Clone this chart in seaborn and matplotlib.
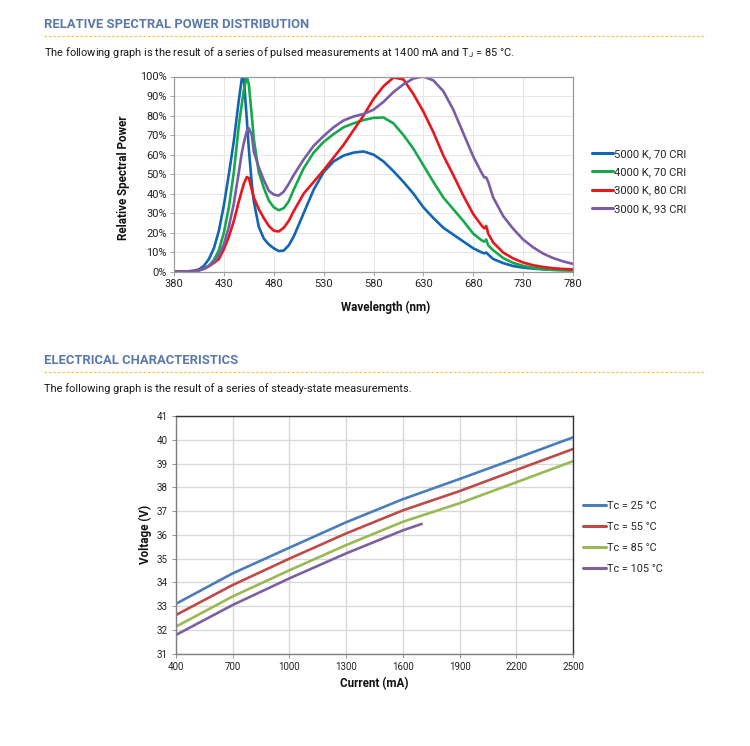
import matplotlib
matplotlib.use("Agg")
import matplotlib.pyplot as plt
import seaborn as sns
import pandas as pd
from matplotlib.lines import Line2D

# ---------------- data: relative spectral power ----------------
wavelength = [380, 390, 400, 405, 410, 415, 420, 425, 430, 435, 440, 445, 448, 450,
              453, 455, 458, 460, 465, 470, 475, 480, 485, 490, 495, 500, 510, 520,
              530, 540, 550, 560, 570, 580, 590, 600, 610, 620, 630, 640, 650, 660,
              670, 680, 688, 691, 693, 695, 700, 710, 720, 730, 740, 750, 760, 770, 780]

spd_5000k_70 = [0, 0, 0.5, 1.2, 3, 6.5, 12, 21, 34, 50, 67, 88, 99, 99,
                78, 63, 45, 36, 23, 17, 14, 12, 10.6, 10.8, 13.5, 18, 30, 42,
                51, 56.5, 59.5, 61, 61.6, 60, 56.5, 51.5, 46, 40, 33, 27.5, 22.5, 19,
                15.5, 12, 10, 9.4, 9.8, 8.8, 6.5, 4.4, 2.9, 2.1, 1.6, 1.2, 1.0, 0.9, 0.8]

spd_4000k_70 = [0, 0, 0.3, 0.8, 1.6, 3, 6, 11, 20, 33, 51, 75, 86, 93,
                100, 96, 80, 68, 51, 43, 36.5, 33, 31.5, 32.5, 36, 42, 53, 61,
                66.5, 70.5, 74, 76, 77.7, 78.8, 79, 76, 70, 63, 54.5, 46, 38, 32,
                26, 19.5, 16.2, 15.4, 16.5, 13.5, 11, 7, 4.5, 3, 2, 1.3, 0.9, 0.7, 0.6]

spd_3000k_80 = [0, 0, 0.3, 0.7, 1.5, 2.8, 4.5, 6.5, 11.5, 18, 26, 36, 41.5, 45,
                48.5, 48, 42, 38, 32, 27.5, 23.5, 21, 20.6, 22.5, 26, 31, 40, 46,
                52, 58.5, 65, 72.5, 80, 88.5, 95, 99.5, 98.5, 91, 82, 71.5, 59.5, 49.5,
                39, 29.5, 23.9, 22.2, 23.4, 19.5, 15, 9.8, 6.8, 4.7, 3.3, 2.4, 1.8, 1.4, 1.2]

spd_3000k_93 = [0, 0, 0.3, 0.7, 1.5, 3, 5, 8.5, 14, 23, 35, 51, 61, 66,
                72, 73.5, 70, 61.5, 53.5, 47, 41.5, 39.5, 39, 41, 45, 49.5, 57.5, 64.5,
                69.5, 74, 77.5, 79.5, 80.8, 83, 87, 92, 96, 99, 100, 98, 92.5, 83,
                71, 59, 51, 48.3, 48.3, 46, 38, 28.5, 22, 16.5, 12.5, 9.3, 7, 5.3, 4]

spd_labels = ["5000 K, 70 CRI", "4000 K, 70 CRI", "3000 K, 80 CRI", "3000 K, 93 CRI"]
spd_colors = ["#1166b3", "#17a84b", "#e8161d", "#7a5ca6"]

# ---------------- data: electrical characteristics ----------------
current_ma = [400, 700, 1000, 1300, 1600, 1900, 2200, 2500]
current_105 = [400, 700, 1000, 1300, 1600, 1700]
v_tc25 = [33.1, 34.38, 35.46, 36.53, 37.5, 38.35, 39.22, 40.1]
v_tc55 = [32.63, 33.89, 35.0, 36.06, 37.03, 37.84, 38.73, 39.61]
v_tc85 = [32.14, 33.41, 34.51, 35.57, 36.55, 37.33, 38.21, 39.1]
v_tc105 = [31.79, 33.05, 34.17, 35.22, 36.19, 36.46]

tc_labels = ["Tc = 25 °C", "Tc = 55 °C", "Tc = 85 °C", "Tc = 105 °C"]
tc_colors = ["#4a7ebb", "#be4b48", "#98b954", "#7d60a0"]

# ---------------- build long tables ----------------
spd_series = [spd_5000k_70, spd_4000k_70, spd_3000k_80, spd_3000k_93]
spd_df = pd.concat([pd.DataFrame({"wl": wavelength, "p": s, "name": n})
                    for s, n in zip(spd_series, spd_labels)], ignore_index=True)

v_series = [(current_ma, v_tc25), (current_ma, v_tc55), (current_ma, v_tc85), (current_105, v_tc105)]
v_df = pd.concat([pd.DataFrame({"i": c, "v": v, "name": n})
                  for (c, v), n in zip(v_series, tc_labels)], ignore_index=True)

# ---------------- figure ----------------
sns.set_theme(style="white")
plt.rcParams["font.family"] = ["Roboto", "DejaVu Sans"]

W, H = 750, 746
fig = plt.figure(figsize=(W / 100, H / 100), dpi=100)

def fx(px):
    return px / W

def fy(py):
    return 1 - py / H

title_color = "#5b79a8"
dash_color = "#f2c744"

def header(title, sub, y_title, y_dash, y_sub):
    fig.text(fx(44), fy(y_title), title, color=title_color, fontsize=9.4,
             fontweight="bold", va="center", ha="left")
    fig.add_artist(Line2D([fx(44), fx(706)], [fy(y_dash), fy(y_dash)],
                          color=dash_color, lw=0.9, ls=(0, (2, 1.6))))
    fig.text(fx(44), fy(y_sub), sub, color="#1a1a1a", fontsize=7.9,
             va="center", ha="left")

header("RELATIVE SPECTRAL POWER DISTRIBUTION",
       "The following graph is the result of a series of pulsed measurements at 1400 mA and T$_\\mathregular{J}$ = 85 °C.",
       25, 36, 53)
header("ELECTRICAL CHARACTERISTICS",
       "The following graph is the result of a series of steady-state measurements.",
       361, 372, 389)

# ---- top chart ----
ax1 = fig.add_axes([fx(174), fy(271.7), fx(573) - fx(174), fy(76.5) - fy(271.7)])
sns.lineplot(data=spd_df, x="wl", y="p", hue="name", palette=spd_colors,
             hue_order=spd_labels, estimator=None, sort=False, linewidth=1.9,
             ax=ax1, legend=False)
ax1.set_xlim(380, 780)
ax1.set_ylim(0, 100)
ax1.set_xticks(range(380, 781, 50))
ax1.set_yticks(range(0, 101, 10))
ax1.set_yticklabels([f"{v}%" for v in range(0, 101, 10)])
ax1.grid(True, color="#e6e6e6", lw=0.7)
for s in ax1.spines.values():
    s.set_color("#9a9a9a")
    s.set_linewidth(0.9)
ax1.tick_params(axis="both", labelsize=7.9, colors="#222222", length=3, width=0.6,
                color="#9a9a9a", pad=2, direction="out", left=True, bottom=True)
ax1.set_xlabel("Wavelength (nm)", fontsize=8.4, fontweight="bold", color="#111111")
ax1.set_ylabel("Relative Spectral Power", fontsize=8.4, fontweight="bold", color="#111111")
ax1.xaxis.set_label_coords(0.53, -0.15)
ax1.yaxis.set_label_coords(-0.11, 0.48)
h1 = [Line2D([], [], color=c, lw=2.2) for c in spd_colors]
fig.legend(h1, spd_labels, loc="upper left", bbox_to_anchor=(fx(592), fy(149)),
           frameon=False, fontsize=8.1, handlelength=1.85, handletextpad=0.1,
           labelspacing=0.74, borderpad=0, borderaxespad=0)

# ---- bottom chart ----
ax2 = fig.add_axes([fx(176), fy(653.7), fx(573) - fx(176), fy(416) - fy(653.7)])
sns.lineplot(data=v_df, x="i", y="v", hue="name", palette=tc_colors,
             hue_order=tc_labels, estimator=None, sort=False, linewidth=1.9,
             ax=ax2, legend=False)
ax2.set_xlim(400, 2500)
ax2.set_ylim(31, 41)
ax2.set_xticks(range(400, 2501, 300))
ax2.set_yticks(range(31, 42, 1))
ax2.grid(True, color="#d9d9d9", lw=1.0)
for s in ax2.spines.values():
    s.set_color("#333333")
    s.set_linewidth(1.0)
ax2.spines["left"].set_color("#808080")
ax2.spines["bottom"].set_color("#808080")
ax2.tick_params(axis="both", labelsize=7.0, colors="#222222", length=3, width=0.6,
                color="#808080", pad=3, direction="out", left=True, bottom=True)
ax2.set_xlabel("Current (mA)", fontsize=8.4, fontweight="bold", color="#111111")
ax2.set_ylabel("Voltage (V)", fontsize=8.4, fontweight="bold", color="#111111")
ax2.xaxis.set_label_coords(0.5, -0.098)
ax2.yaxis.set_label_coords(-0.06, 0.5)
h2 = [Line2D([], [], color=c, lw=2.2) for c in tc_colors]
fig.legend(h2, tc_labels, loc="upper left", bbox_to_anchor=(fx(583), fy(501)),
           frameon=False, fontsize=7.8, handlelength=2.1, handletextpad=0.12,
           labelspacing=1.0, borderpad=0, borderaxespad=0)

fig.savefig("out.png", dpi=100)
